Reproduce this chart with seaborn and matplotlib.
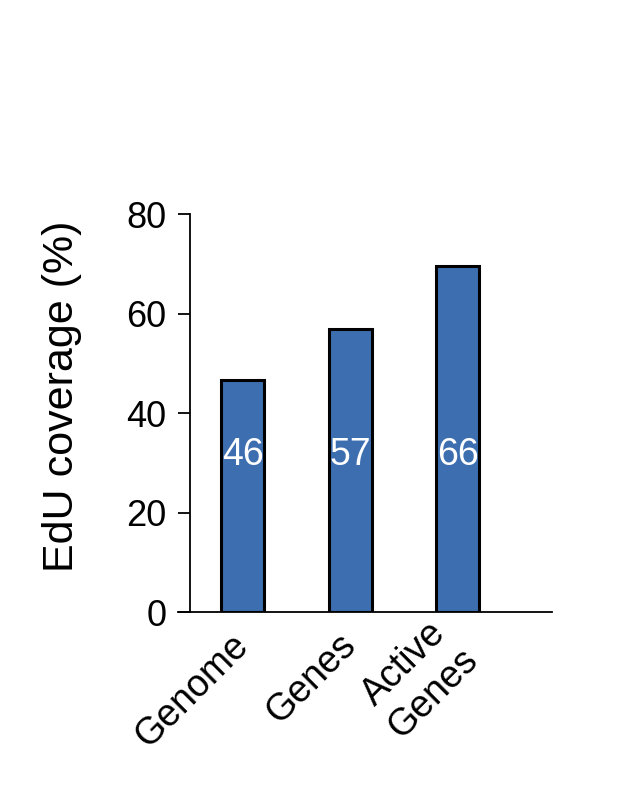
import numpy as np
import pandas as pd
import matplotlib
matplotlib.use('Agg')
import matplotlib.pyplot as plt
import seaborn as sns

# values
categories = ['Genome', 'Genes', 'Active\nGenes']
bar_heights = [46.6, 56.9, 69.5]
bar_labels = ['46', '57', '66']

df = pd.DataFrame({'region': categories, 'coverage': bar_heights})

sns.set_style('white')
plt.rcParams['font.family'] = ['Liberation Sans', 'DejaVu Sans']
plt.rcParams['text.color'] = 'black'
plt.rcParams['axes.labelcolor'] = 'black'
plt.rcParams['xtick.color'] = 'black'
plt.rcParams['ytick.color'] = 'black'

fig = plt.figure(figsize=(6.42, 7.89), dpi=100)
ax = fig.add_axes([0.2773, 0.2243, 0.5826, 0.5044])

sns.barplot(data=df, x='region', y='coverage', color='#3D6EB0', width=0.40,
            edgecolor='black', linewidth=2.2, saturation=1, ax=ax)

# labels sit at the same height inside each bar
for i, lab in enumerate(bar_labels):
    ax.text(i, 31.5, lab, color='white', fontsize=27, ha='center', va='center')

ax.set_xlim(-0.599, 2.874)
ax.set_ylim(0, 80)
ax.set_yticks([0, 20, 40, 60, 80])

for s in ['top', 'right']:
    ax.spines[s].set_visible(False)
ax.spines['left'].set_position(('data', -0.487))
ax.spines['left'].set_linewidth(1.3)
ax.spines['bottom'].set_linewidth(1.3)
ax.spines['left'].set_color('black')
ax.spines['bottom'].set_color('black')

ax.tick_params(axis='y', direction='out', length=9, width=1.3, color='black',
               labelsize=26, pad=8, left=True)
ax.tick_params(axis='x', length=0, labelsize=27, pad=20)
plt.setp(ax.get_xticklabels(), rotation=45, ha='right', va='center',
         rotation_mode='anchor', multialignment='center')

ax.set_xlabel('')
ax.set_ylabel('EdU coverage (%)', fontsize=31)
ax.yaxis.set_label_coords(-0.257, 0.543)

fig.savefig('out.png', dpi=100)
